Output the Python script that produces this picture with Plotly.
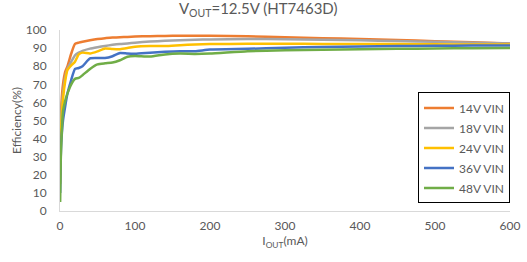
import plotly.graph_objects as go

iout = [0.2, 1, 2, 4, 7, 10, 15, 20, 25, 30, 40, 50, 60, 70, 80, 90, 100, 120, 140, 160, 180, 200, 250, 300, 350, 400, 450, 500, 550, 600]

eff_14v = [25, 45, 60, 70, 77, 80, 87, 92.3, 93, 93.5, 94.3, 95, 95.5, 95.8, 96, 96.2, 96.4, 96.6, 96.7, 96.8, 96.8, 96.8, 96.5, 96.0, 95.5, 95.0, 94.5, 93.8, 93.2, 92.5]
eff_18v = [20, 40, 55, 65, 74, 78.5, 82.5, 86, 87.5, 88.5, 89.7, 90.5, 91.2, 91.8, 92.3, 92.6, 93, 93.6, 94, 94.3, 94.6, 94.8, 95, 94.9, 94.6, 94.3, 93.9, 93.5, 93.0, 92.5]
eff_24v = [15, 38, 50, 62, 72, 78, 80.5, 82.5, 86.5, 87.5, 87, 88.2, 89.8, 89.5, 89.4, 90, 90.8, 91.2, 91.1, 91.6, 92, 92.2, 92.4, 92.4, 92.3, 92.3, 92.2, 92.1, 92.0, 92.0]
eff_36v = [10, 30, 40, 50, 58, 65, 72.5, 78.5, 79, 80, 84.3, 84.5, 84.5, 85.5, 87.3, 87, 86.9, 87.5, 88, 88.3, 88.3, 89.2, 89.6, 90.2, 90.6, 90.9, 91.1, 91.3, 91.4, 91.5]
eff_48v = [5, 28, 40, 55, 61, 65, 70, 73, 73.5, 75, 78.5, 81, 81.6, 82, 83.3, 85.2, 85.6, 85.3, 86.5, 87, 86.8, 87, 88.3, 88.8, 89.1, 89.4, 89.6, 89.8, 89.9, 90.0]

series_names = ["14V VIN", "18V VIN", "24V VIN", "36V VIN", "48V VIN"]
series_vals = [eff_14v, eff_18v, eff_24v, eff_36v, eff_48v]
colors = ["#ED7D31", "#A5A5A5", "#FFC000", "#4472C4", "#70AD47"]

x_ticks = [0, 100, 200, 300, 400, 500, 600]
y_ticks = [0, 10, 20, 30, 40, 50, 60, 70, 80, 90, 100]

fig = go.Figure()
for name, vals, c in zip(series_names, series_vals, colors):
    fig.add_trace(go.Scatter(x=iout, y=vals, mode="lines", name=name, legendgroup=name,
                             line=dict(color=c, width=2.5, shape="spline", smoothing=0.5)))

txt = "#595959"
fnt = "Lato, Open Sans, sans-serif"
fig.update_layout(
    width=527, height=262,
    margin=dict(l=60, r=17, t=30, b=51),
    paper_bgcolor="white", plot_bgcolor="white",
    font=dict(family=fnt, size=11, color=txt),
    title=dict(text="V<sub>OUT</sub>=12.5V (HT7463D)", x=0.49, xref="container",
               y=0.987, yref="container", xanchor="center", yanchor="top",
               font=dict(family=fnt, size=15, color=txt)),
    xaxis=dict(range=[0, 600], tickvals=x_ticks, showgrid=False, zeroline=False,
               showline=True, linecolor="#D9D9D9", linewidth=1, automargin=False,
               ticks="", ticklabelstandoff=4,
               title=dict(text="I<sub>OUT</sub>(mA)", font=dict(family=fnt, size=12, color=txt), standoff=3),
               tickfont=dict(family=fnt, size=12, color=txt)),
    yaxis=dict(range=[0, 100], tickvals=y_ticks, showgrid=False, zeroline=False,
               showline=True, linecolor="#D9D9D9", linewidth=1, automargin=False,
               ticks="", ticklabelstandoff=10,
               title=dict(text="Efficiency(%)", font=dict(family=fnt, size=12, color=txt), standoff=1),
               tickfont=dict(family=fnt, size=12, color=txt)),
    legend=dict(x=1.0, y=0.655, xanchor="right", yanchor="top",
                bordercolor="black", borderwidth=1, bgcolor="white",
                font=dict(family=fnt, size=12, color=txt), itemwidth=30,
                tracegroupgap=1),
)

fig.write_html("out.html", config={"displayModeBar": False},
               post_script="document.body.style.margin='0';document.body.style.padding='0';")
